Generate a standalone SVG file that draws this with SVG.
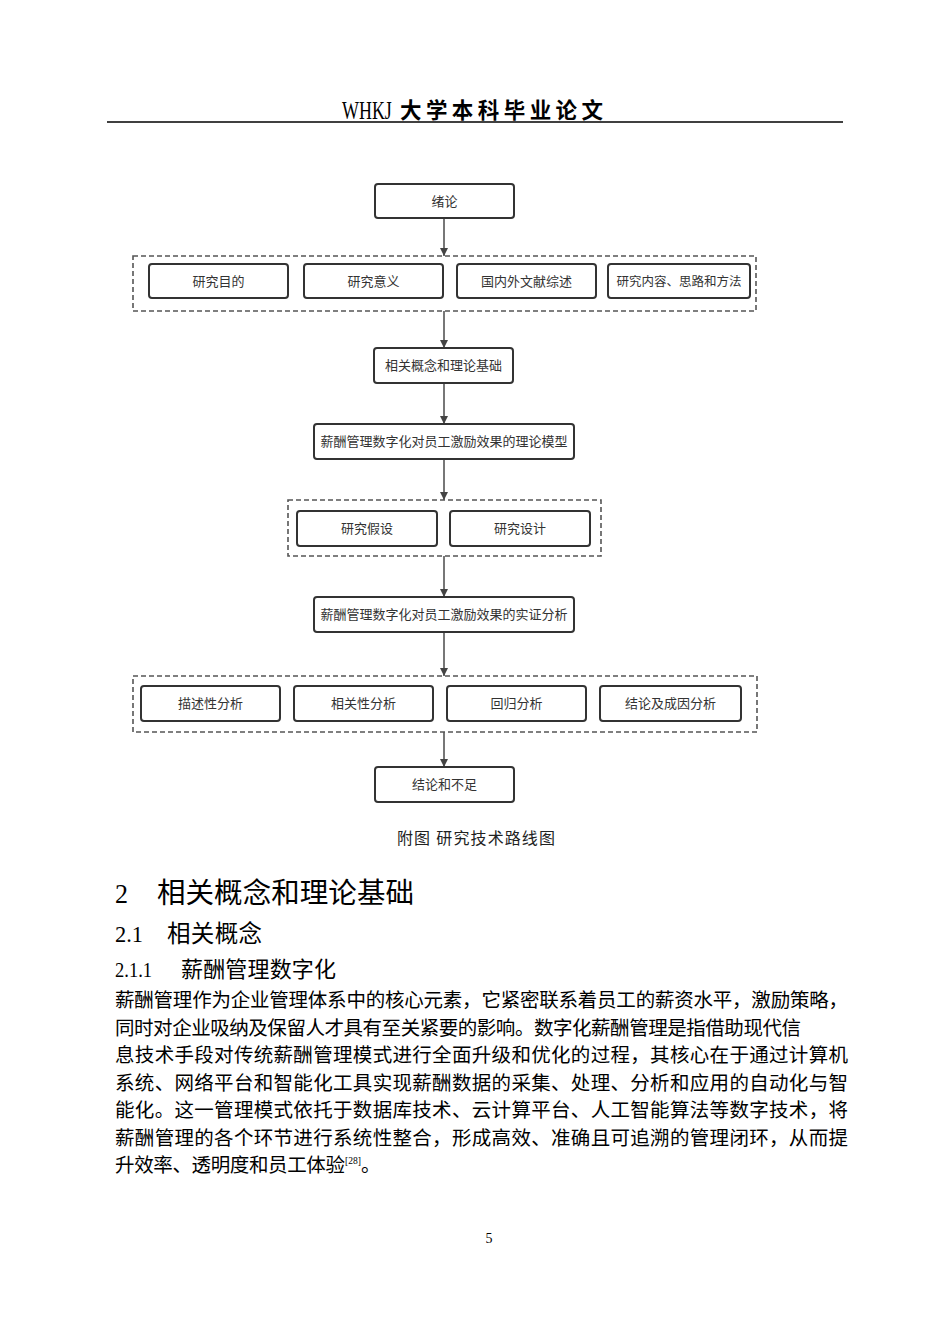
<svg xmlns="http://www.w3.org/2000/svg" width="950" height="1344" viewBox="0 0 950 1344">
<defs>
<style>
.box{fill:#fff;stroke:#333;stroke-width:2}
.grp{fill:none;stroke:#555;stroke-width:1.6;stroke-dasharray:5 3}
.lbl{font-family:"Noto Sans CJK SC",sans-serif;font-size:13px;fill:#333;text-anchor:middle}
.conn{stroke:#555;stroke-width:1.6;fill:none;marker-end:url(#arr)}
.body{font-family:"Liberation Serif","Noto Sans CJK SC",serif;font-size:19.5px;fill:#000}
.cap{font-family:"Liberation Serif","Noto Sans CJK SC",serif;font-size:16px;fill:#222}
.hd{font-family:"Noto Sans CJK SC",sans-serif;fill:#000}
.num{font-family:"Liberation Serif",serif;fill:#000}
</style>
<marker id="arr" markerUnits="userSpaceOnUse" viewBox="0 0 10 10" refX="10" refY="5" markerWidth="12" markerHeight="8" orient="auto">
<path d="M0,0 L10,5 L0,10 z" fill="#444"/>
</marker>
</defs>
<rect width="950" height="1344" fill="#fff"/>

<g id="header">
<text class="num" font-size="26" transform="translate(342,119) scale(0.69,1)">WHKJ</text>
<text x="400" y="118" class="hd" font-size="21.5" font-weight="bold" textLength="203" lengthAdjust="spacing">大学本科毕业论文</text>
<line x1="107" y1="122" x2="843" y2="122" stroke="#000" stroke-width="1.5"/>
</g>

<g id="connectors">
<line class="conn" x1="444" y1="218" x2="444" y2="256"/>
<line class="conn" x1="444" y1="311" x2="444" y2="348"/>
<line class="conn" x1="444" y1="383" x2="444" y2="424"/>
<line class="conn" x1="444" y1="459" x2="444" y2="500"/>
<line class="conn" x1="444" y1="556" x2="444" y2="597"/>
<line class="conn" x1="444" y1="632" x2="444" y2="676"/>
<line class="conn" x1="444" y1="732" x2="444" y2="767"/>
</g>

<g id="n-intro"><rect class="box" x="375" y="184" width="139" height="34" rx="3"/><text class="lbl" x="444.5" y="205.5">绪论</text></g>

<g id="grp1"><rect class="grp" x="133" y="256" width="623" height="55"/></g>
<g id="n-purpose"><rect class="box" x="149" y="264" width="139" height="34" rx="3"/><text class="lbl" x="218.5" y="285.5">研究目的</text></g>
<g id="n-meaning"><rect class="box" x="304" y="264" width="139" height="34" rx="3"/><text class="lbl" x="373.5" y="285.5">研究意义</text></g>
<g id="n-review"><rect class="box" x="457" y="264" width="139" height="34" rx="3"/><text class="lbl" x="526.5" y="285.5">国内外文献综述</text></g>
<g id="n-content"><rect class="box" x="608" y="264" width="142" height="34" rx="3"/><text class="lbl" x="679" y="285.5" style="font-size:12.5px">研究内容、思路和方法</text></g>

<g id="n-concept"><rect class="box" x="374" y="348" width="139" height="35" rx="3"/><text class="lbl" x="443.5" y="370">相关概念和理论基础</text></g>
<g id="n-model"><rect class="box" x="314" y="424" width="260" height="35" rx="3"/><text class="lbl" x="444" y="446">薪酬管理数字化对员工激励效果的理论模型</text></g>

<g id="grp2"><rect class="grp" x="288" y="500" width="313" height="56"/></g>
<g id="n-hypo"><rect class="box" x="297" y="511" width="140" height="35" rx="3"/><text class="lbl" x="367" y="533">研究假设</text></g>
<g id="n-design"><rect class="box" x="450" y="511" width="140" height="35" rx="3"/><text class="lbl" x="520" y="533">研究设计</text></g>

<g id="n-empirical"><rect class="box" x="314" y="597" width="260" height="35" rx="3"/><text class="lbl" x="444" y="619">薪酬管理数字化对员工激励效果的实证分析</text></g>

<g id="grp3"><rect class="grp" x="133" y="676" width="624" height="56"/></g>
<g id="n-desc"><rect class="box" x="141" y="686" width="139" height="35" rx="3"/><text class="lbl" x="210.5" y="708">描述性分析</text></g>
<g id="n-corr"><rect class="box" x="294" y="686" width="139" height="35" rx="3"/><text class="lbl" x="363.5" y="708">相关性分析</text></g>
<g id="n-reg"><rect class="box" x="447" y="686" width="139" height="35" rx="3"/><text class="lbl" x="516.5" y="708">回归分析</text></g>
<g id="n-cause"><rect class="box" x="600" y="686" width="141" height="35" rx="3"/><text class="lbl" x="670.5" y="708">结论及成因分析</text></g>

<g id="n-end"><rect class="box" x="375" y="767" width="139" height="35" rx="3"/><text class="lbl" x="444.5" y="789">结论和不足</text></g>

<g id="caption">
<text class="cap" x="397" y="844" textLength="158" lengthAdjust="spacing">附图 研究技术路线图</text>
</g>

<g id="headings">
<text x="115" y="903" class="num" font-size="28" textLength="13" lengthAdjust="spacingAndGlyphs">2</text>
<text x="157" y="903" class="hd" font-size="28.5" textLength="257" lengthAdjust="spacing">相关概念和理论基础</text>
<text x="115" y="942" class="num" font-size="23" textLength="28" lengthAdjust="spacingAndGlyphs">2.1</text>
<text x="167" y="942" class="hd" font-size="23.5" textLength="95" lengthAdjust="spacing">相关概念</text>
<text x="115" y="977" class="num" font-size="22" textLength="37" lengthAdjust="spacingAndGlyphs">2.1.1</text>
<text x="181" y="977" class="hd" font-size="22" textLength="155" lengthAdjust="spacing">薪酬管理数字化</text>
</g>

<g id="paragraph">
<text x="115" y="1007" class="body" textLength="733" lengthAdjust="spacing">薪酬管理作为企业管理体系中的核心元素，它紧密联系着员工的薪资水平，激励策略，</text>
<text x="115" y="1034.5" class="body" textLength="686" lengthAdjust="spacing">同时对企业吸纳及保留人才具有至关紧要的影响。数字化薪酬管理是指借助现代信</text>
<text x="115" y="1062" class="body" textLength="733" lengthAdjust="spacing">息技术手段对传统薪酬管理模式进行全面升级和优化的过程，其核心在于通过计算机</text>
<text x="115" y="1089.5" class="body" textLength="733" lengthAdjust="spacing">系统、网络平台和智能化工具实现薪酬数据的采集、处理、分析和应用的自动化与智</text>
<text x="115" y="1117" class="body" textLength="733" lengthAdjust="spacing">能化。这一管理模式依托于数据库技术、云计算平台、人工智能算法等数字技术，将</text>
<text x="115" y="1144.5" class="body" textLength="733" lengthAdjust="spacing">薪酬管理的各个环节进行系统性整合，形成高效、准确且可追溯的管理闭环，从而提</text>
<text x="115" y="1172" class="body" textLength="230" lengthAdjust="spacing">升效率、透明度和员工体验</text>
<text x="345" y="1164" class="num" font-size="11" textLength="16" lengthAdjust="spacingAndGlyphs">[28]</text>
<text x="361" y="1172" class="body">。</text>
</g>

<g id="page-number">
<text x="489" y="1243" class="num" font-size="14" text-anchor="middle">5</text>
</g>
</svg>
